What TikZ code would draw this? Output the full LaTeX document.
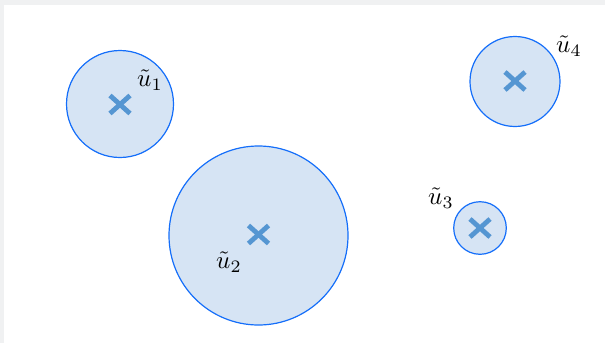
\documentclass[tikz,border=0pt]{standalone}
\usepackage{amsmath}
\definecolor{ringblue}{RGB}{20,110,250}
\definecolor{fillblue}{RGB}{214,228,244}
\definecolor{crossblue}{RGB}{85,150,210}
\definecolor{bggrey}{RGB}{240,241,242}
\begin{document}
\begin{tikzpicture}[x=1pt,y=-1pt,
  region/.style={draw=ringblue,fill=fillblue,line width=1.2pt},
  centremark/.style={draw=crossblue,line width=4.8pt},
  lbl/.style={scale=2.5,inner sep=0pt}]
\useasboundingbox (0,0) rectangle (605,343);
\fill[bggrey] (0,0) rectangle (605,5);
\fill[bggrey] (0,0) rectangle (4,343);
% circles
\draw[region] (120,104) circle (53.5);
\draw[region] (258.5,235.5) circle (89.5);
\draw[region] (480,228) circle (26.3);
\draw[region] (515,81.5) circle (45);
% centre marks
\foreach \n/\cx/\cy in {c1/120/104.5, c2/258.5/234.5, c3/480/228, c4/515/81}{
  \coordinate (\n) at (\cx,\cy);
  \draw[centremark] ([shift={(-10,-9)}]\n) -- ([shift={(10,9)}]\n);
  \draw[centremark] ([shift={(-10,9)}]\n) -- ([shift={(10,-9)}]\n);
}
% labels
\node[lbl] (l1) at (150,80) {$\tilde{u}_1$};
\node[lbl] (l2) at (229,262) {$\tilde{u}_2$};
\node[lbl] (l3) at (441,198) {$\tilde{u}_3$};
\node[lbl] (l4) at (569,46) {$\tilde{u}_4$};
\end{tikzpicture}
\end{document}
